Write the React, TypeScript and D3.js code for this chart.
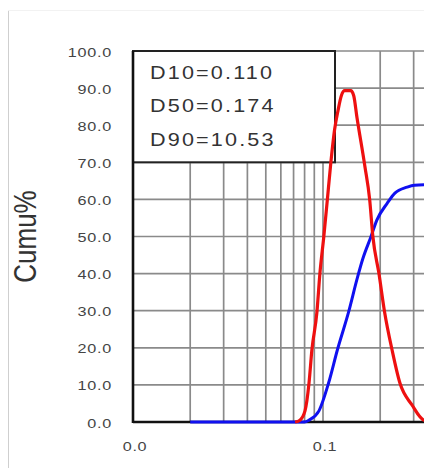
import React, { useEffect, useRef } from "react";
import * as d3 from "d3";

// particle size (log axis) vs percent
const freqSizes = [0.0713, 0.0756, 0.0804, 0.0844, 0.0874, 0.0929, 0.0963, 0.101, 0.105, 0.11, 0.115, 0.12, 0.125, 0.13, 0.14, 0.145, 0.151, 0.166, 0.176, 0.183, 0.197, 0.211, 0.231, 0.254, 0.294, 0.34, 0.4];
const freqValues = [0, 0.5, 3, 10.5, 19.4, 29.6, 40, 50, 59, 70, 78.7, 84, 88, 89.3, 89.3, 88, 82, 69, 60, 50, 40, 29.6, 19.4, 10.5, 4.6, 0.5, 0];

const cumSizes = [0.02, 0.04, 0.06, 0.08, 0.0844, 0.0952, 0.107, 0.119, 0.137, 0.151, 0.162, 0.179, 0.192, 0.218, 0.239, 0.277, 0.303, 0.4];
const cumValues = [0, 0, 0, 0, 0.5, 3, 10.5, 19.4, 30, 38.5, 44, 50, 54.4, 59, 61.7, 63.3, 63.8, 64];

const yTicks = [0, 10, 20, 30, 40, 50, 60, 70, 80, 90, 100];
const xTicks = [0.01, 0.1];
const legendLines = ["D10=0.110", "D50=0.174", "D90=10.53"];

const App: React.FC = () => {
  const svgRef = useRef<SVGSVGElement | null>(null);

  useEffect(() => {
    if (!svgRef.current) return;
    const svg = d3.select(svgRef.current);
    svg.selectAll("*").remove();

    const width = 424;
    const height = 468;
    svg.attr("width", width).attr("height", height);

    const x = d3.scaleLog().domain([0.01, 1]).range([133, 513]);
    const y = d3.scaleLinear().domain([0, 100]).range([422, 51]);
    const sx = 1.2; // glyphs in the source look stretched sideways

    // outer frame
    svg.append("line").attr("x1", 8.5).attr("x2", 8.5).attr("y1", 10).attr("y2", height)
      .attr("stroke", "#cfcfcf").attr("stroke-width", 1);
    svg.append("line").attr("x1", 8).attr("x2", width).attr("y1", 10.5).attr("y2", 10.5)
      .attr("stroke", "#f2f2f2").attr("stroke-width", 1);

    const grid = svg.append("g");
    const minors: number[] = [];
    [0.01, 0.1, 1].forEach((dec) => {
      for (let k = 1; k <= 9; k++) minors.push(dec * k);
    });
    grid.selectAll("line.v").data(minors.filter((d) => d > 0.01)).enter().append("line")
      .attr("x1", (d) => x(d)).attr("x2", (d) => x(d))
      .attr("y1", y(100)).attr("y2", y(0))
      .attr("stroke", "#8a8a8a").attr("stroke-width", 1.7);
    grid.selectAll("line.h").data(yTicks.filter((d) => d > 0)).enter().append("line")
      .attr("x1", x(0.01)).attr("x2", width)
      .attr("y1", (d) => y(d)).attr("y2", (d) => y(d))
      .attr("stroke", "#8a8a8a").attr("stroke-width", 1.7);

    // legend box
    const boxRight = 335;
    svg.append("rect")
      .attr("x", x(0.01)).attr("y", y(100))
      .attr("width", boxRight - x(0.01)).attr("height", y(70) - y(100))
      .attr("fill", "#fff").attr("stroke", "#222").attr("stroke-width", 2);

    legendLines.forEach((t, i) => {
      svg.append("text")
        .attr("transform", `translate(150,${72.5 + i * 33.5}) scale(${sx},1)`)
        .attr("dominant-baseline", "central")
        .attr("font-family", "Liberation Sans, Arial, sans-serif")
        .attr("font-size", 18)
        .attr("letter-spacing", 1.8)
        .attr("fill", "#333")
        .text(t);
    });

    // axes
    svg.append("line").attr("x1", x(0.01)).attr("x2", x(0.01)).attr("y1", y(100)).attr("y2", y(0) + 1)
      .attr("stroke", "#111").attr("stroke-width", 2.6);
    svg.append("line").attr("x1", x(0.01)).attr("x2", width).attr("y1", y(0)).attr("y2", y(0))
      .attr("stroke", "#111").attr("stroke-width", 2.6);

    const fmt = d3.format(".1f");
    yTicks.forEach((v) => {
      svg.append("text")
        .attr("transform", `translate(112,${y(v) + 1}) scale(${sx},1)`)
        .attr("text-anchor", "end")
        .attr("dominant-baseline", "central")
        .attr("font-family", "Liberation Sans, Arial, sans-serif")
        .attr("font-size", 13.5)
        .attr("letter-spacing", 0.6)
        .attr("fill", "#444")
        .text(fmt(v));
    });
    xTicks.forEach((v) => {
      svg.append("text")
        .attr("transform", `translate(${x(v) + 2},${446}) scale(${sx},1)`)
        .attr("text-anchor", "middle")
        .attr("dominant-baseline", "central")
        .attr("font-family", "Liberation Sans, Arial, sans-serif")
        .attr("font-size", 13.5)
        .attr("letter-spacing", 0.6)
        .attr("fill", "#444")
        .text(fmt(v));
    });

    svg.append("text")
      .attr("transform", `translate(25,${(y(0) + y(100)) / 2}) scale(${sx},1) rotate(-90)`)
      .attr("text-anchor", "middle")
      .attr("dominant-baseline", "central")
      .attr("font-family", "Liberation Sans, Arial, sans-serif")
      .attr("font-size", 26)
      .attr("fill", "#333")
      .text("Cumu%");

    // curves
    const line = d3.line<[number, number]>()
      .x((d) => x(d[0]))
      .y((d) => y(d[1]))
      .curve(d3.curveMonotoneX);

    const cumData = cumSizes.map((s, i) => [s, cumValues[i]] as [number, number]);
    const freqData = freqSizes.map((s, i) => [s, freqValues[i]] as [number, number]);

    svg.append("path").attr("d", line(cumData) || "")
      .attr("fill", "none").attr("stroke", "#1010f0").attr("stroke-width", 3);
    svg.append("path").attr("d", line(freqData) || "")
      .attr("fill", "none").attr("stroke", "#ee1010").attr("stroke-width", 3.2)
      .attr("stroke-linejoin", "round");
  }, []);

  return (
    <svg
      ref={svgRef}
      style={{ position: "absolute", left: 0, top: 0, background: "#fff" }}
    ></svg>
  );
};

export default App;
